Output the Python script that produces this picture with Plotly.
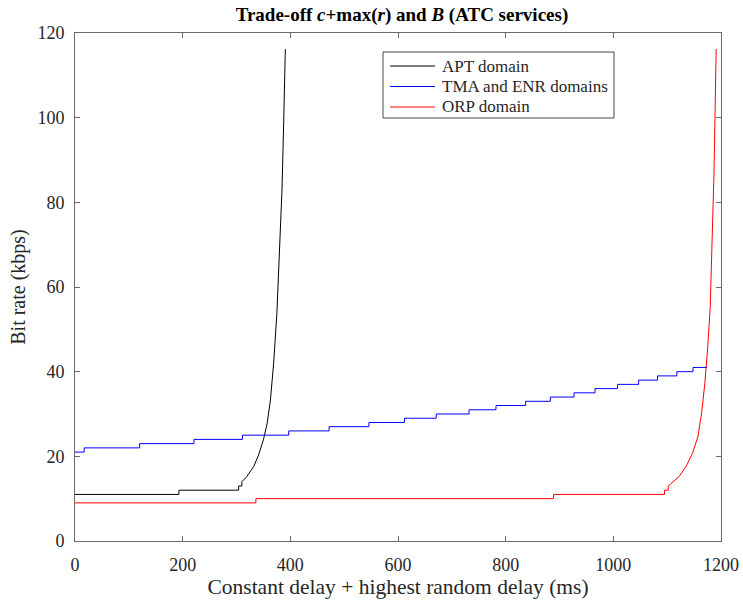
import plotly.graph_objects as go

# APT domain: required bit rate vs. constant + highest random delay
apt_delay = [0, 193, 193, 304, 304, 310, 310, 319, 332, 341, 350, 357, 363, 369, 375, 380, 384.5, 387.6, 390.7]
apt_rate = [11, 11, 12, 12, 13, 13, 14, 15.2, 17.6, 20.3, 23.9, 27.8, 33.3, 42, 53.8, 67.2, 82.9, 98.7, 116.2]

# TMA and ENR domains: staircase (delay where each level starts, last point closes the run)
tma_delay = [0, 17, 120, 221, 311, 397, 472, 546, 612, 671, 732, 782, 837, 883, 927, 966,
             1008, 1047, 1082, 1118, 1148, 1174]
tma_rate = [21, 22, 23, 24, 25, 26, 27, 28, 29, 30, 31, 32, 33, 34, 35, 36,
            37, 38, 39, 40, 41, 41]

# ORP domain
orp_delay = [0, 336, 336, 889, 889, 1095, 1095, 1102, 1102, 1122, 1135, 1147, 1157, 1164,
             1170, 1175, 1180, 1184, 1187, 1191]
orp_rate = [9, 9, 10, 10, 11, 11, 12, 12, 13, 15.2, 17.6, 20.7, 24.6, 30.2,
            37.3, 45.1, 55.3, 71.1, 86.9, 116.2]

series_names = ["APT domain", "TMA and ENR domains", "ORP domain"]
series_colors = ["#000000", "#0000ff", "#ff0000"]

x_ticks = [0, 200, 400, 600, 800, 1000, 1200]
y_ticks = [0, 20, 40, 60, 80, 100, 120]

FONT = "Liberation Serif"
AXIS_COLOR = "#6a6a6a"
TEXT_COLOR = "#262626"

fig = go.Figure()
fig.add_trace(go.Scatter(x=apt_delay, y=apt_rate, mode="lines", name=series_names[0],
                         line=dict(color=series_colors[0], width=1)))
fig.add_trace(go.Scatter(x=tma_delay, y=tma_rate, mode="lines", name=series_names[1],
                         line=dict(color=series_colors[1], width=1, shape="hv")))
fig.add_trace(go.Scatter(x=orp_delay, y=orp_rate, mode="lines", name=series_names[2],
                         line=dict(color=series_colors[2], width=1)))

# Compact legend box drawn in paper coordinates (paper = plot area)
W, H = 646.0, 508.0          # plot area size in px
def px_x(v):
    return (v - 75) / W
def px_y(v):
    return (541 - v) / H

fig.add_shape(type="rect", xref="paper", yref="paper",
              x0=px_x(383), x1=px_x(614), y0=px_y(118), y1=px_y(52),
              line=dict(color="#444444", width=1), fillcolor="white", layer="above")
row_y = [66, 86.5, 107]
for name, color, ry in zip(series_names, series_colors, row_y):
    fig.add_shape(type="line", xref="paper", yref="paper",
                  x0=px_x(390), x1=px_x(435), y0=px_y(ry), y1=px_y(ry),
                  line=dict(color=color, width=1), layer="above")
    fig.add_annotation(xref="paper", yref="paper", x=px_x(440), y=px_y(ry),
                       xanchor="left", yanchor="middle", text=name, showarrow=False,
                       font=dict(family=FONT, size=17, color=TEXT_COLOR))

axis_common = dict(
    showgrid=False, zeroline=False, showline=True, linecolor=AXIS_COLOR, linewidth=1,
    mirror="ticks", ticks="inside", ticklen=5, tickcolor=AXIS_COLOR, tickwidth=1,
    tickfont=dict(family=FONT, size=18, color=TEXT_COLOR), automargin=False,
)

fig.update_layout(
    width=743, height=601,
    margin=dict(l=75, r=22, t=33, b=60),
    paper_bgcolor="white", plot_bgcolor="white",
    font=dict(family=FONT, color=TEXT_COLOR),
    showlegend=False,
    title=dict(
        text="<b>Trade-off <i>c</i>+max(<i>r</i>) and <i>B</i> (ATC services)</b>",
        x=0.541, xanchor="center", y=0.976, yanchor="middle",
        font=dict(family=FONT, size=19, color="#000000"), automargin=False,
    ),
    xaxis=dict(axis_common, range=[0, 1200], tickvals=x_ticks,
               title=dict(text="Constant delay + highest random delay (ms)",
                          font=dict(family=FONT, size=21.5, color=TEXT_COLOR), standoff=1),
               ticklabelstandoff=7),
    yaxis=dict(axis_common, range=[0, 120], tickvals=y_ticks,
               title=dict(text="Bit rate (kbps)",
                          font=dict(family=FONT, size=20, color=TEXT_COLOR), standoff=6),
               ticklabelstandoff=6),
)

fig.write_html("out.html")
